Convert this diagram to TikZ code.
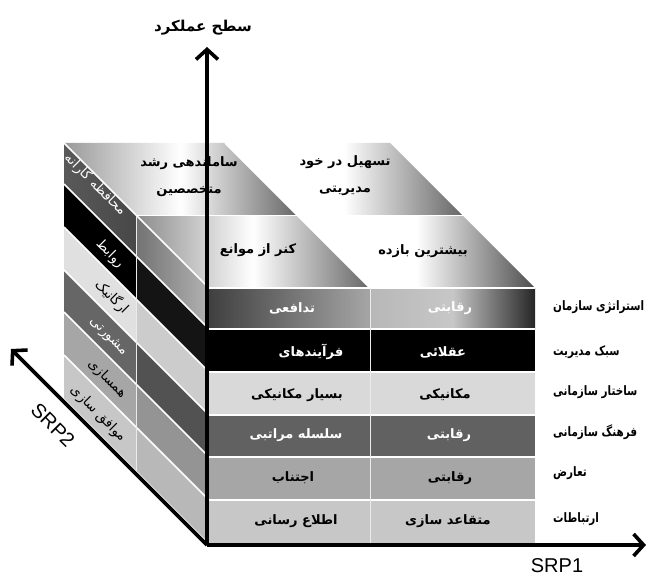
\documentclass[tikz,border=0pt]{standalone}
\usepackage{fontspec}
\setmainfont{Liberation Sans}
\newfontfamily\farsi[Script=Arabic]{DejaVu Sans}
\newfontfamily\farsinarrow[Script=Arabic, FakeStretch=0.8]{DejaVu Sans}
\TeXXeTstate=1
\usetikzlibrary{calc}
\usetikzlibrary{positioning}
\usetikzlibrary{arrows.meta}

\newcommand{\rtltext}[1]{\beginR #1\endR}

\begin{document}
\begin{tikzpicture}[%
  x=1pt, y=-1pt,
  >={Straight Barb[length=10pt,width=22pt]},
  axis/.style={line width=3.6pt, ->},
  cell/.style={font=\farsi\bfseries\fontsize{13}{16}\selectfont},
  celltop/.style={align=center, font=\farsi\bfseries\fontsize{13}{27}\selectfont},
  rowlabel/.style={font=\farsinarrow\bfseries\fontsize{13}{16}\selectfont, anchor=west, inner sep=0pt},
  sidelabel/.style={font=\farsi\fontsize{13.5}{16}\selectfont, rotate=-45},
  gap/.style={white, line width=1.6pt},
  divider/.style={black!8, line width=0.8pt},
]
  \useasboundingbox (0,0) rectangle (652,577);

  % axes
  \coordinate (O) at (207,545);
  \coordinate (Z) at (207,47);
  \coordinate (X) at (646,545);
  \coordinate (Y) at (11,349);

  % front face
  \coordinate (L0) at (209,288);
  \coordinate (L1) at (209,329);
  \coordinate (L2) at (209,372);
  \coordinate (L3) at (209,415);
  \coordinate (L4) at (209,457);
  \coordinate (L5) at (209,500);
  \coordinate (L6) at (209,543);
  \coordinate (M0) at (370,288);
  \coordinate (M1) at (370,329);
  \coordinate (M2) at (370,372);
  \coordinate (M3) at (370,415);
  \coordinate (M4) at (370,457);
  \coordinate (M5) at (370,500);
  \coordinate (M6) at (370,543);
  \coordinate (R0) at (535,288);
  \coordinate (R1) at (535,329);
  \coordinate (R2) at (535,372);
  \coordinate (R3) at (535,415);
  \coordinate (R4) at (535,457);
  \coordinate (R5) at (535,500);
  \coordinate (R6) at (535,543);

  % side face
  \coordinate (H0) at (136.5,215.5);
  \coordinate (H1) at (136.5,256.5);
  \coordinate (H2) at (136.5,299.5);
  \coordinate (H3) at (136.5,342.5);
  \coordinate (H4) at (136.5,384.5);
  \coordinate (H5) at (136.5,427.5);
  \coordinate (H6) at (136.5,470.5);
  \coordinate (B0) at (64,143);
  \coordinate (B1) at (64,184);
  \coordinate (B2) at (64,227);
  \coordinate (B3) at (64,270);
  \coordinate (B4) at (64,312);
  \coordinate (B5) at (64,355);
  \coordinate (B6) at (64,398);

  % top face
  \coordinate (T1) at (297.5,215.5);
  \coordinate (T2) at (462.5,215.5);
  \coordinate (T3) at (225,143);
  \coordinate (T4) at (390,143);

  % side strips
  \shade[left color=black!65, right color=black!72] (H0) -- (H1) -- (B1) -- (B0) -- cycle;
  \shade[left color=black!55, right color=black!30] (L0) -- (L1) -- (H1) -- (H0) -- cycle;
  \fill[black] (H1) -- (H2) -- (B2) -- (B1) -- cycle;
  \fill[black!92] (L1) -- (L2) -- (H2) -- (H1) -- cycle;
  \fill[black!12] (H2) -- (H3) -- (B3) -- (B2) -- cycle;
  \fill[black!20] (L2) -- (L3) -- (H3) -- (H2) -- cycle;
  \fill[black!60] (H3) -- (H4) -- (B4) -- (B3) -- cycle;
  \fill[black!68] (L3) -- (L4) -- (H4) -- (H3) -- cycle;
  \fill[black!35] (H4) -- (H5) -- (B5) -- (B4) -- cycle;
  \fill[black!42] (L4) -- (L5) -- (H5) -- (H4) -- cycle;
  \fill[black!22] (H5) -- (H6) -- (B6) -- (B5) -- cycle;
  \fill[black!28] (L5) -- (L6) -- (H6) -- (H5) -- cycle;

  % top cells
  \shade[left color=black!40, right color=black!60, middle color=white] (H0) -- (T1) -- (T3) -- (B0) -- cycle;
  \shade[left color=white, right color=black!60, middle color=white] (T1) -- (T2) -- (T4) -- (T3) -- cycle;
  \shade[left color=black!45, right color=black!60, middle color=white] (L0) -- (M0) -- (T1) -- (H0) -- cycle;
  \shade[left color=white, right color=black!70, middle color=white] (M0) -- (R0) -- (T2) -- (T1) -- cycle;

  % front cells
  \shade[left color=black!75, right color=black!35] (L0) rectangle (M1);
  \shade[left color=black!28, right color=black!85, middle color=black!22] (M0) rectangle (R1);
  \fill[black] (L1) rectangle (R2);
  \fill[black!15] (L2) rectangle (R3);
  \fill[black!62] (L3) rectangle (R4);
  \fill[black!35] (L4) rectangle (R5);
  \fill[black!22] (L5) rectangle (R6);

  \draw[gap] (L0) -- (R0);
  \draw[gap] (L1) -- (R1);
  \draw[gap] (L2) -- (R2);
  \draw[gap] (L3) -- (R3);
  \draw[gap] (L4) -- (R4);
  \draw[gap] (L5) -- (R5);
  \draw[divider] (M0) -- (M6);
  \draw[gap] (L0) -- (B0);
  \draw[gap] (L1) -- (B1);
  \draw[gap] (L2) -- (B2);
  \draw[gap] (L3) -- (B3);
  \draw[gap] (L4) -- (B4);
  \draw[gap] (L5) -- (B5);
  \draw[divider] (H0) -- (H6);
  \draw[gap] (H0) -- (T2);
  \draw[gap] (M0) -- (T3);

  % labels
  \node[cell, text=white] (c11) at (292,308) {\rtltext{تدافعی}};
  \node[cell, text=white] (c12) at (450,308) {\rtltext{رقابتی}};
  \node[cell, text=white] (c21) at (311,352) {\rtltext{فرآیندهای}};
  \node[cell, text=white] (c22) at (443,352) {\rtltext{عقلائی}};
  \node[cell] (c31) at (297,395) {\rtltext{بسیار مکانیکی}};
  \node[cell] (c32) at (445,395) {\rtltext{مکانیکی}};
  \node[cell, text=white] (c41) at (296,435) {\rtltext{سلسله مراتبی}};
  \node[cell, text=white] (c42) at (449,435) {\rtltext{رقابتی}};
  \node[cell] (c51) at (293,478) {\rtltext{اجتناب}};
  \node[cell] (c52) at (450,478) {\rtltext{رقابتی}};
  \node[cell] (c61) at (296,521) {\rtltext{اطلاع رسانی}};
  \node[cell] (c62) at (448,521) {\rtltext{متقاعد سازی}};

  \node[cell] (t11) at (258,250) {\rtltext{کنر از موانع}};
  \node[cell] (t12) at (423,251) {\rtltext{بیشترین بازده}};
  \node[celltop] (t21) at (189,177) {\rtltext{ساماندهی رشد}\\\rtltext{متخصصین}};
  \node[celltop] (t22) at (345,176) {\rtltext{تسهیل در خود}\\\rtltext{مدیریتی}};

  \node[rowlabel] (l1) at (553,307) {\rtltext{استراتژی سازمان}};
  \node[rowlabel] (l2) at (553,352) {\rtltext{سبک مدیریت}};
  \node[rowlabel] (l3) at (553,392) {\rtltext{ساختار سازمانی}};
  \node[rowlabel] (l4) at (553,432) {\rtltext{فرهنگ سازمانی}};
  \node[rowlabel] (l5) at (553,473) {\rtltext{تعارض}};
  \node[rowlabel] (l6) at (553,519) {\rtltext{ارتباطات}};

  \node[sidelabel, text=white] (s1) at (95,185) {\rtltext{محافظه کارانه}};
  \node[sidelabel, text=white] (s2) at (110,254) {\rtltext{روابط}};
  \node[sidelabel] (s3) at (112,297) {\rtltext{ارگانیک}};
  \node[sidelabel, text=white] (s4) at (108,337) {\rtltext{مشورتی}};
  \node[sidelabel] (s5) at (107,379) {\rtltext{همسازی}};
  \node[sidelabel] (s6) at (98,414) {\rtltext{موافق سازی}};

  \draw[axis] (O) -- (Z);
  \draw[axis] (O) -- (X);
  \draw[axis] (O) -- (Y);

  \node[font=\farsi\bfseries\fontsize{15}{18}\selectfont] (zl) at (203,28) {\rtltext{سطح عملکرد}};
  \node[font=\fontsize{20}{24}\selectfont] (xl) at (557,566) {SRP1};
  \node[font=\fontsize{20}{24}\selectfont, rotate=-45] (yl) at (53,425) {SRP2};

\end{tikzpicture}
\end{document}
